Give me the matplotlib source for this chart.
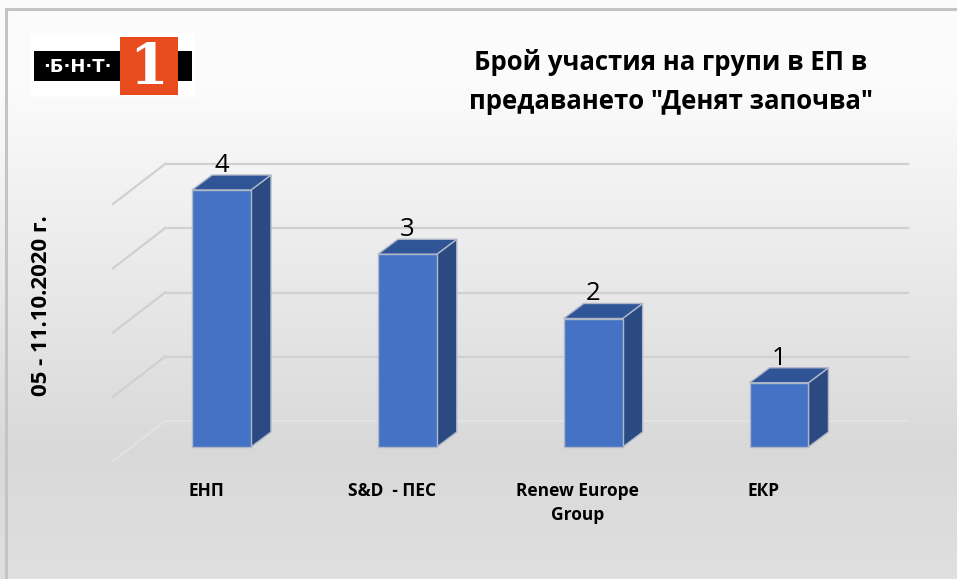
import numpy as np
import matplotlib
matplotlib.use("Agg")
import matplotlib.pyplot as plt
from matplotlib.patches import Polygon, Rectangle
from matplotlib.transforms import IdentityTransform

# ---- data ----
categories = ["ЕНП", "S&D  - ПЕС", "Renew Europe\nGroup", "ЕКР"]
values = [4, 3, 2, 1]
title = "Брой участия на групи в ЕП в\nпредаването \"Денят започва\""
ylabel = "05 - 11.10.2020 г."
grid_values = [0, 1, 2, 3, 4]

W, H = 957, 579
fig = plt.figure(figsize=(W / 100, H / 100), dpi=100)

# background gradient
bg = fig.add_axes([0, 0, 1, 1], zorder=0)
bg.set_axis_off()
rows = np.linspace(0, 1, 200)
top_c = np.array([0.985, 0.985, 0.985])
mid_c = np.array([0.85, 0.85, 0.85])
bot_c = np.array([0.875, 0.875, 0.875])
grad = np.zeros((200, 1, 3))
for i, r in enumerate(rows):
    if r < 0.15:
        grad[i, 0] = top_c
    elif r < 0.78:
        t = (r - 0.15) / 0.63
        grad[i, 0] = top_c * (1 - t) + mid_c * t
    else:
        t = (r - 0.78) / 0.22
        grad[i, 0] = mid_c * (1 - t) + bot_c * t
bg.imshow(grad, aspect="auto", extent=[0, 1, 0, 1], origin="upper")
bg.set_xlim(0, 1); bg.set_ylim(0, 1)
# border (left and top)
bg.plot([6 / W, 6 / W], [0, 1 - 9 / H], color="#c4c4c4", lw=2.2)
bg.plot([6 / W, 1], [1 - 9 / H, 1 - 9 / H], color="#c4c4c4", lw=2.2)

# plot axes (front plane)
px_left, px_right = 221.5 - 0.6 * 185.8, 779 + 0.6 * 185.8
unit_y = 64.25
base_px = 447
y_lo, y_hi = -0.5, 4.6
ax = fig.add_axes([px_left / W, (H - (base_px - y_lo * unit_y)) / H,
                   (px_right - px_left) / W, (y_hi - y_lo) * unit_y / H], zorder=1)
ax.set_xlim(-0.6, 3.6)
ax.set_ylim(y_lo, y_hi)
ax.set_axis_off()
ax.patch.set_alpha(0)

x = np.arange(len(categories))
bw = 0.317
front = "#4472c4"
side = "#2b4a82"
topc = "#2f5597"
edge = "#b0b8c8"

D = ax.transData
# back-wall gridlines and left side wall diagonals
back_dy = 26
wall_front_x = 113
wall_back_x = 165
for gv in grid_values:
    _, yd = D.transform((0, gv))
    yb = yd + back_dy
    xr = 908
    col = "#d0d0d0" if gv > 0 else "#e2e2e2"
    ax.add_line(plt.Line2D([wall_back_x, xr], [yb, yb], transform=IdentityTransform(),
                           color=col, lw=1.6, zorder=1, clip_on=False))
    yf = yb - 40
    ax.add_line(plt.Line2D([wall_front_x, wall_back_x], [yf, yb], transform=IdentityTransform(),
                           color=col, lw=1.6, zorder=1, clip_on=False))

bars = ax.bar(x, values, width=bw, color=front, edgecolor=edge, linewidth=1.0, zorder=3)
ddx, ddy = 20, 15
for b, v in zip(bars, values):
    x0, x1 = b.get_x(), b.get_x() + b.get_width()
    (X0, Y0), (X1, Y1) = D.transform([(x0, 0), (x1, v)])
    sidep = Polygon([(X1, Y0), (X1, Y1), (X1 + ddx, Y1 + ddy), (X1 + ddx, Y0 + ddy)],
                    closed=True, transform=IdentityTransform(), facecolor=side,
                    edgecolor=edge, lw=1.0, zorder=2, clip_on=False)
    topp = Polygon([(X0, Y1), (X1, Y1), (X1 + ddx, Y1 + ddy), (X0 + ddx, Y1 + ddy)],
                   closed=True, transform=IdentityTransform(), facecolor=topc,
                   edgecolor=edge, lw=1.0, zorder=2, clip_on=False)
    ax.add_patch(sidep)
    ax.add_patch(topp)
    ax.annotate(str(v), xy=((x0 + x1) / 2, v), xytext=(0, 13), textcoords="offset points",
                ha="center", va="baseline", fontsize=18.5, family="Open Sans", color="black",
                zorder=5)

for xi, c in zip(x, categories):
    ax.annotate(c, xy=(xi, 0), xytext=(-11, -25), textcoords="offset points",
                ha="center", va="top", fontsize=12.5, fontweight="bold",
                family="Open Sans", linespacing=1.45)

# y label
fig.text(42 / W, 1 - 306 / H, ylabel, rotation=90, ha="center", va="center",
         fontsize=16, fontweight="bold", family="Open Sans")

# title
fig.text(671 / W, 1 - 82 / H, title, ha="center", va="center", fontsize=18.5,
         fontweight="bold", family="Open Sans", linespacing=1.6)

# logo
lg = fig.add_axes([0, 0, 1, 1], zorder=2)
lg.set_xlim(0, W); lg.set_ylim(H, 0); lg.set_axis_off(); lg.patch.set_alpha(0)
lg.add_patch(Rectangle((31, 33), 164, 64, facecolor="white", edgecolor="none"))
lg.add_patch(Rectangle((34, 51), 158, 30, facecolor="black", edgecolor="none"))
lg.add_patch(Rectangle((120, 37), 58, 58, facecolor="#e84c1e", edgecolor="none"))
lg.text(77, 67, "·Б·Н·Т·", color="white", ha="center", va="center", fontsize=13,
        fontweight="bold", family="DejaVu Sans")
lg.text(149, 68, "1", color="white", ha="center", va="center", fontsize=40,
        fontweight="bold", family="DejaVu Serif")

fig.savefig("out.png", dpi=100)
